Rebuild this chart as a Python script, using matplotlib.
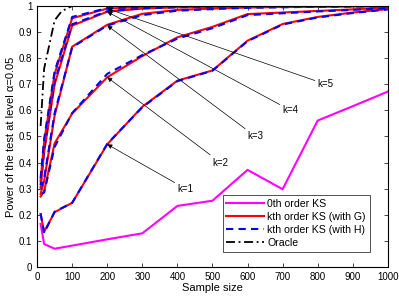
import matplotlib
matplotlib.use("Agg")
import matplotlib.pyplot as plt

plt.rcParams["font.family"] = ["Liberation Sans", "DejaVu Sans"]

# sample sizes
n = [10, 20, 50, 100, 200, 300, 400, 500, 600, 700, 800, 900, 1000]
n_oracle = [10, 20, 50, 70, 100, 200, 300, 400, 500, 600, 700, 800, 900, 1000]

ks0 = [0.165, 0.088, 0.070, 0.082, 0.106, 0.129, 0.234, 0.254, 0.372, 0.298, 0.561, 0.616, 0.672]

# kth order KS with G (red), k = 1..5
g_k1 = [0.203, 0.135, 0.210, 0.246, 0.470, 0.614, 0.714, 0.753, 0.867, 0.931, 0.958, 0.975, 0.988]
g_k2 = [0.270, 0.290, 0.474, 0.588, 0.727, 0.808, 0.880, 0.920, 0.969, 0.975, 0.981, 0.987, 0.994]
g_k3 = [0.280, 0.330, 0.580, 0.844, 0.928, 0.970, 0.985, 0.990, 0.994, 0.996, 0.997, 0.998, 0.999]
g_k4 = [0.305, 0.440, 0.700, 0.925, 0.978, 0.990, 0.995, 0.997, 0.998, 0.999, 0.999, 1.000, 1.000]
g_k5 = [0.330, 0.480, 0.740, 0.953, 0.990, 0.996, 0.998, 0.999, 1.000, 1.000, 1.000, 1.000, 1.000]

# kth order KS with H (blue dashed)
h_k1 = [0.205, 0.130, 0.212, 0.246, 0.472, 0.612, 0.712, 0.752, 0.865, 0.929, 0.956, 0.973, 0.987]
h_k2 = [0.280, 0.285, 0.460, 0.590, 0.740, 0.812, 0.875, 0.915, 0.965, 0.972, 0.979, 0.985, 0.992]
h_k3 = [0.300, 0.340, 0.590, 0.842, 0.925, 0.965, 0.982, 0.988, 0.993, 0.995, 0.997, 0.998, 0.999]
h_k4 = [0.314, 0.450, 0.710, 0.930, 0.980, 0.991, 0.995, 0.997, 0.998, 0.999, 0.999, 1.000, 1.000]
h_k5 = [0.340, 0.490, 0.750, 0.958, 0.992, 0.996, 0.998, 0.999, 1.000, 1.000, 1.000, 1.000, 1.000]

oracle = [0.54, 0.76, 0.945, 0.98, 1.0, 1.0, 1.0, 1.0, 1.0, 1.0, 1.0, 1.0, 1.0, 1.0]

labels = ["k=1", "k=2", "k=3", "k=4", "k=5"]
arrow_tip = [(200, 0.470), (200, 0.727), (200, 0.925), (200, 0.978), (200, 0.990)]
label_pos = [(400, 0.30), (500, 0.40), (600, 0.50), (700, 0.60), (800, 0.70)]

fig = plt.figure(figsize=(3.99, 2.99), dpi=100)
ax = fig.add_axes([0.093, 0.107, 0.879, 0.873])

ax.plot(n, ks0, color="#ff00ff", lw=1.5, label="0th order KS")
for i, (g, h) in enumerate(zip([g_k1, g_k2, g_k3, g_k4, g_k5],
                               [h_k1, h_k2, h_k3, h_k4, h_k5])):
    ax.plot(n, g, color="red", lw=1.5,
            label="kth order KS (with G)" if i == 0 else None)
    ax.plot(n, h, color="blue", lw=1.5, ls=(0, (3.5, 2.5)),
            label="kth order KS (with H)" if i == 0 else None)
ax.plot(n_oracle, oracle, color="black", lw=1.3, ls=(0, (5, 2, 1, 2)),
        label="Oracle")

for lab, tip, pos in zip(labels, arrow_tip, label_pos):
    ax.annotate(lab, xy=tip, xytext=pos, fontsize=7, ha="left", va="center",
                arrowprops=dict(arrowstyle="-|>", color="black", lw=0.5,
                                mutation_scale=7, shrinkA=0, shrinkB=0))

ax.set_xlim(0, 1000)
ax.set_ylim(0, 1)
ax.set_xticks(range(0, 1001, 100))
ax.set_yticks([i / 10 for i in range(11)])
ax.set_yticklabels(["0", "0.1", "0.2", "0.3", "0.4", "0.5", "0.6", "0.7",
                    "0.8", "0.9", "1"])
ax.tick_params(direction="in", top=True, right=True, labelsize=7, length=3,
               width=0.5)
for s in ax.spines.values():
    s.set_linewidth(0.8)
ax.set_xlabel("Sample size", fontsize=8, labelpad=1)
ax.set_ylabel("Power of the test at level \u03b1=0.05", fontsize=8, labelpad=2)

leg = ax.legend(loc="lower right", fontsize=7.6, frameon=True, fancybox=False,
                edgecolor="black", handlelength=3.6, borderpad=0.35,
                labelspacing=0.3, handletextpad=0.3,
                bbox_to_anchor=(0.963, 0.038))
leg.get_frame().set_linewidth(0.6)

fig.savefig("out.png", dpi=100)
